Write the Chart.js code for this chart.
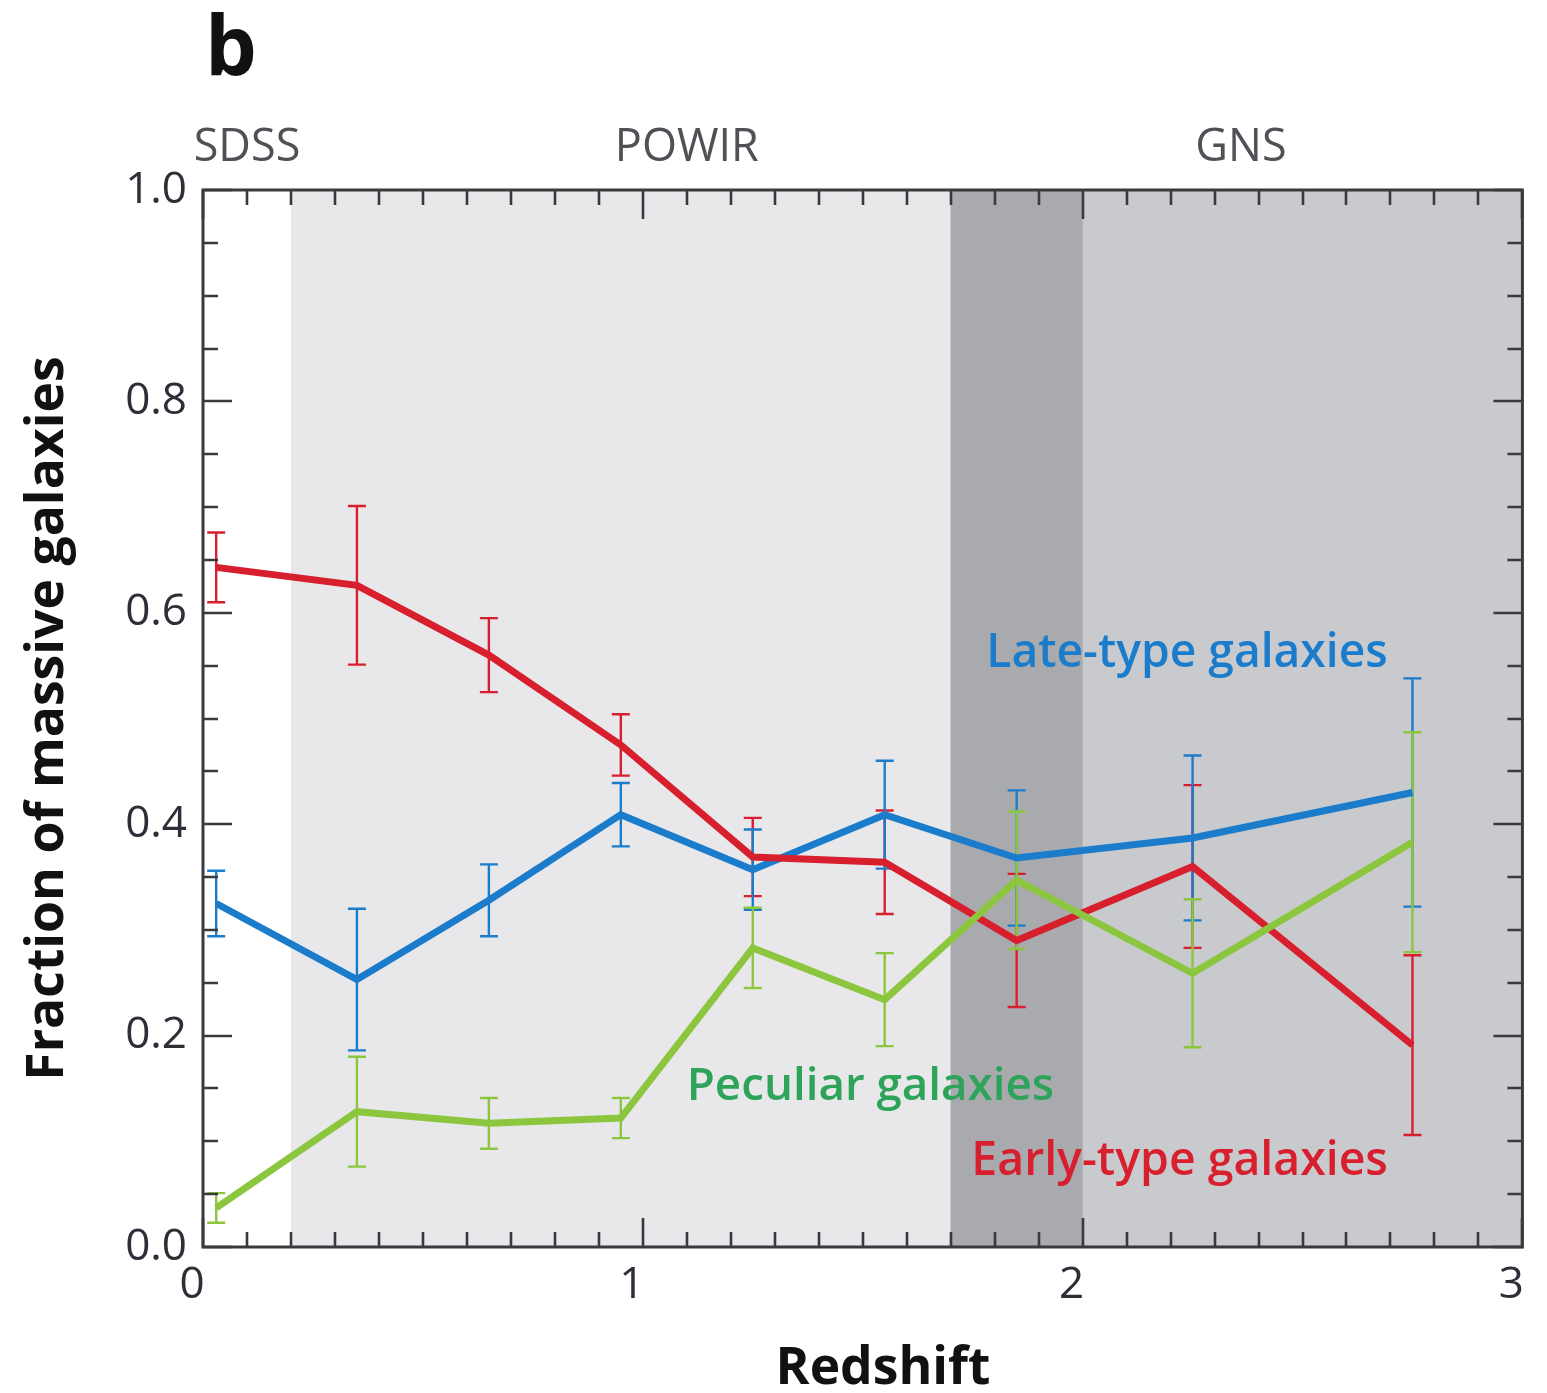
<!DOCTYPE html>
<html>
<head>
<meta charset="utf-8">
<script src="https://cdn.jsdelivr.net/npm/chart.js@4.4.0/dist/chart.umd.min.js"></script>
<style>
  html, body { margin: 0; padding: 0; background: #ffffff; }
  #wrap { width: 1547px; height: 1393px; position: relative; }
</style>
</head>
<body>
<div id="wrap"><canvas id="c" width="1547" height="1393"></canvas></div>
<script>
// ---- data ----
const redshift = [0.03, 0.35, 0.65, 0.95, 1.25, 1.55, 1.85, 2.25, 2.75];
const lateType = [0.325, 0.253, 0.328, 0.409, 0.357, 0.409, 0.368, 0.387, 0.430];
const lateErr  = [0.031, 0.067, 0.034, 0.030, 0.038, 0.051, 0.064, 0.078, 0.108];
const earlyType = [0.643, 0.626, 0.560, 0.475, 0.369, 0.364, 0.290, 0.360, 0.191];
const earlyErr  = [0.033, 0.075, 0.035, 0.029, 0.037, 0.049, 0.063, 0.077, 0.085];
const peculiar = [0.037, 0.128, 0.117, 0.122, 0.283, 0.234, 0.347, 0.259, 0.383];
const peculiarErr = [0.014, 0.052, 0.024, 0.019, 0.038, 0.044, 0.065, 0.070, 0.104];
const surveys = ["SDSS", "POWIR", "GNS"];
const surveyRanges = [[0.0, 0.2], [0.2, 2.0], [1.7, 3.0]];
const xTickLabels = ["0", "1", "2", "3"];
const yTickLabels = ["0.0", "0.2", "0.4", "0.6", "0.8", "1.0"];

const RED = "#d71f2e", BLUE = "#1b7ccb", GREEN = "#8cc63f";
const FONT = "'Open Sans', 'Noto Sans', sans-serif";

function pts(ys) { return redshift.map((x, i) => ({ x: x, y: ys[i] })); }

const bandsPlugin = {
  id: "bands",
  beforeDatasetsDraw(chart) {
    const { ctx, chartArea: a, scales: { x } } = chart;
    ctx.save();
    const xp = v => x.getPixelForValue(v);
    ctx.fillStyle = "#e8e8ea";
    ctx.fillRect(xp(surveyRanges[1][0]), a.top, xp(surveyRanges[1][1]) - xp(surveyRanges[1][0]), a.bottom - a.top);
    ctx.fillStyle = "#c9cacd";
    ctx.fillRect(xp(surveyRanges[2][0]), a.top, xp(surveyRanges[2][1]) - xp(surveyRanges[2][0]), a.bottom - a.top);
    ctx.fillStyle = "#a9aaae";
    ctx.fillRect(xp(surveyRanges[2][0]), a.top, xp(surveyRanges[1][1]) - xp(surveyRanges[2][0]), a.bottom - a.top);
    ctx.restore();

    const sets = [[earlyType, earlyErr, RED], [lateType, lateErr, BLUE], [peculiar, peculiarErr, GREEN]];
    const y = chart.scales.y;
    ctx.save();
    ctx.lineWidth = 2.4;
    for (const [vals, errs, col] of sets) {
      ctx.strokeStyle = col;
      for (let i = 0; i < redshift.length; i++) {
        const px = x.getPixelForValue(redshift[i]);
        const y1 = y.getPixelForValue(vals[i] + errs[i]);
        const y2 = y.getPixelForValue(vals[i] - errs[i]);
        ctx.beginPath();
        ctx.moveTo(px, y1); ctx.lineTo(px, y2);
        ctx.moveTo(px - 9, y1); ctx.lineTo(px + 9, y1);
        ctx.moveTo(px - 9, y2); ctx.lineTo(px + 9, y2);
        ctx.stroke();
      }
    }
    ctx.restore();
  }
};

const framePlugin = {
  id: "frame",
  afterDatasetsDraw(chart) {
    const { ctx, chartArea: a, scales: { x, y } } = chart;
    ctx.save();
    ctx.strokeStyle = "#3a3a3e";
    ctx.lineWidth = 2.6;
    for (let k = 0; k <= 30; k++) {
      const v = k / 10;
      const px = Math.round(x.getPixelForValue(v));
      const major = k % 10 === 0;
      ctx.beginPath();
      ctx.moveTo(px, a.bottom); ctx.lineTo(px, a.bottom - (major ? 29 : 15));
      ctx.moveTo(px, a.top); ctx.lineTo(px, a.top + (major ? 29 : 15));
      ctx.stroke();
    }
    for (let k = 0; k <= 20; k++) {
      const v = k / 20;
      const py = Math.round(y.getPixelForValue(v));
      const major = k % 4 === 0;
      ctx.beginPath();
      ctx.moveTo(a.left, py); ctx.lineTo(a.left + (major ? 29 : 15), py);
      ctx.moveTo(a.right, py); ctx.lineTo(a.right - (major ? 29 : 15), py);
      ctx.stroke();
    }
    ctx.lineWidth = 3;
    ctx.strokeRect(a.left, a.top, a.right - a.left, a.bottom - a.top);
    ctx.restore();
  }
};

function fitText(ctx, text, weight, target, base) {
  ctx.font = weight + " " + base + "px " + FONT;
  const w = ctx.measureText(text).width;
  return base * target / w;
}

const textPlugin = {
  id: "texts",
  afterDraw(chart) {
    const { ctx, chartArea: a, scales: { x, y } } = chart;
    ctx.save();
    ctx.textBaseline = "alphabetic";
    const labels = [
      ["Late-type galaxies", BLUE, 1.781, 0.549, 402],
      ["Peculiar galaxies", "#2ea35a", 1.10, 0.139, 367],
      ["Early-type galaxies", RED, 1.747, 0.068, 417]
    ];
    for (const [t, col, lx, ly, w] of labels) {
      const s = fitText(ctx, t, "600", w, 40);
      ctx.font = "600 " + s.toFixed(1) + "px " + FONT;
      ctx.fillStyle = col;
      ctx.textAlign = "left";
      ctx.fillText(t, x.getPixelForValue(lx), y.getPixelForValue(ly));
    }
    const centers = [0.1, 1.1, 2.36];
    ctx.fillStyle = "#505056";
    ctx.font = "500 45px " + FONT;
    ctx.textAlign = "center";
    surveys.forEach((s, i) => ctx.fillText(s, x.getPixelForValue(centers[i]), a.top - 29));
    ctx.fillStyle = "#111";
    ctx.font = "700 82px " + FONT;
    ctx.textAlign = "left";
    ctx.fillText("b", 205, 75);
    ctx.font = "700 " + fitText(ctx, "Redshift", "700", 215, 40).toFixed(1) + "px " + FONT;
    ctx.textAlign = "center";
    ctx.fillText("Redshift", 883, 1384);
    const yt = "Fraction of massive galaxies";
    ctx.font = "700 " + fitText(ctx, yt, "700", 725, 40).toFixed(1) + "px " + FONT;
    ctx.translate(63, (a.top + a.bottom) / 2);
    ctx.rotate(-Math.PI / 2);
    ctx.fillText(yt, 0, 0);
    ctx.restore();
  }
};

const chart = new Chart(document.getElementById("c"), {
  type: "scatter",
  data: {
    datasets: [
      { label: "Peculiar galaxies", data: pts(peculiar), showLine: true, borderColor: GREEN, borderWidth: 7, pointRadius: 0, tension: 0 },
      { label: "Early-type galaxies", data: pts(earlyType), showLine: true, borderColor: RED, borderWidth: 7, pointRadius: 0, tension: 0 },
      { label: "Late-type galaxies", data: pts(lateType), showLine: true, borderColor: BLUE, borderWidth: 7, pointRadius: 0, tension: 0 }
    ]
  },
  options: {
    responsive: false,
    animation: false,
    devicePixelRatio: 1,
    layout: { padding: { left: 0, right: 22, top: 190, bottom: 0 } },
    plugins: { legend: { display: false }, tooltip: { enabled: false }, title: { display: false } },
    scales: {
      x: {
        type: "linear", min: 0, max: 3,
        afterFit: s => { s.height = 146; },
        afterBuildTicks: s => { s.ticks = xTickLabels.map(t => ({ value: Number(t) })); },
        ticks: { callback: (v, i) => xTickLabels[i], font: { family: FONT, size: 44, weight: "500" }, color: "#2e2e38", padding: 12, labelOffset: -11, maxRotation: 0, autoSkip: false },
        grid: { display: false, drawTicks: false },
        border: { display: false }
      },
      y: {
        type: "linear", min: 0, max: 1,
        afterFit: s => { s.width = 203; },
        afterBuildTicks: s => { s.ticks = yTickLabels.map(t => ({ value: Number(t) })); },
        ticks: { callback: (v, i) => yTickLabels[i], font: { family: FONT, size: 44, weight: "500" }, color: "#2e2e38", padding: 16, autoSkip: false },
        grid: { display: false, drawTicks: false },
        border: { display: false }
      }
    }
  },
  plugins: [bandsPlugin, framePlugin, textPlugin]
});
</script>
</body>
</html>
